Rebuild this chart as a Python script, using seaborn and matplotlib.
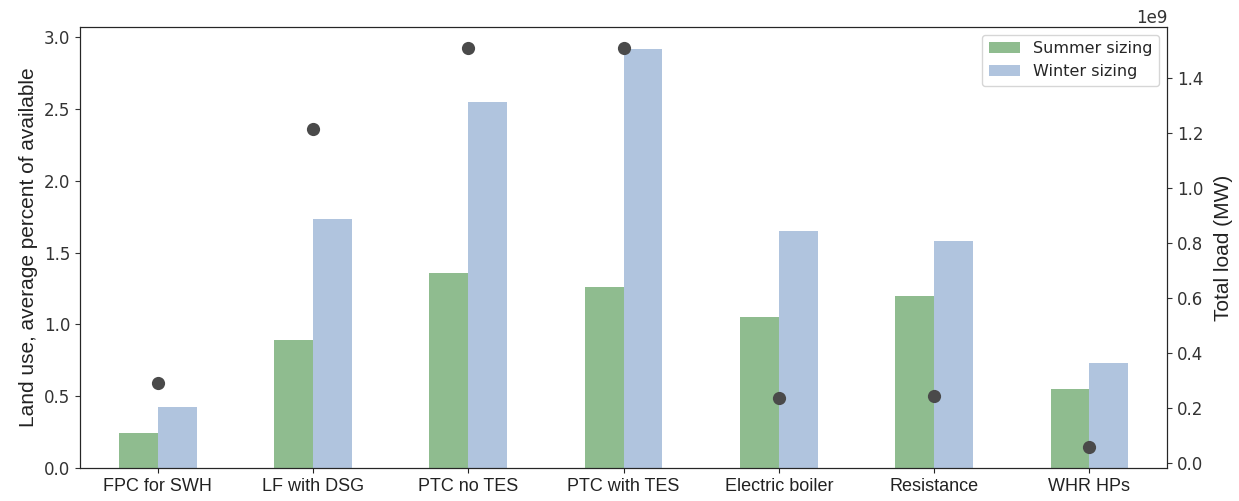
import numpy as np
import pandas as pd
import matplotlib
matplotlib.use("Agg")
import matplotlib.pyplot as plt
import seaborn as sns

categories = ["FPC for SWH", "LF with DSG", "PTC no TES", "PTC with TES",
              "Electric boiler", "Resistance", "WHR HPs"]
summer_land = [0.245, 0.89, 1.36, 1.26, 1.05, 1.20, 0.55]
winter_land = [0.425, 1.73, 2.55, 2.92, 1.65, 1.58, 0.73]
total_load = [0.29e9, 1.215e9, 1.51e9, 1.51e9, 0.235e9, 0.245e9, 0.058e9]
series_names = ["Summer sizing", "Winter sizing"]

sns.set_style("ticks")
plt.rcParams["font.family"] = ["DejaVu Sans"]

df = pd.DataFrame({
    "technology": categories * 2,
    "land": summer_land + winter_land,
    "sizing": [series_names[0]] * len(categories) + [series_names[1]] * len(categories),
})

fig = plt.figure(figsize=(12.39, 5.01), dpi=100)
ax = fig.add_axes([0.0646, 0.066, 0.8774, 0.880])

sns.barplot(data=df, x="technology", y="land", hue="sizing",
            palette=["#8fbc8f", "#b0c4de"], width=0.5, saturation=1,
            linewidth=0, edgecolor="none", ax=ax, legend=True)

ax.set_ylim(0, 3.07)
ax.set_xlim(-0.5, 6.5)
ax.set_xlabel("")
ax.set_ylabel("Land use, average percent of available",
              fontsize=15, family="Liberation Sans", color="#222222")
ax.tick_params(axis="y", labelsize=12, colors="#333333")
ax.tick_params(axis="x", labelsize=13, colors="#222222")
for lab in ax.get_xticklabels():
    lab.set_family("Liberation Sans")
for sp in ax.spines.values():
    sp.set_visible(True)
    sp.set_color("#222222")

ax2 = ax.twinx()
sns.stripplot(x=categories, y=total_load, jitter=False, color="#4a4a4a",
              size=9.5, linewidth=0, ax=ax2, zorder=5)
ax2.set_xlim(-0.5, 6.5)
ax2.set_ylim(-0.018e9, 1.585e9)
ax2.set_ylabel("Total load (MW)", fontsize=15, family="Liberation Sans",
               color="#222222", labelpad=8)
ax2.tick_params(axis="y", labelsize=12, colors="#333333")
ax2.yaxis.get_offset_text().set_fontsize(12)

handles, labels = ax.get_legend_handles_labels()
ax.legend_.remove()
ax2.legend(handles, labels, loc="upper right", fontsize=11.5,
           frameon=True, fancybox=True, framealpha=0.8, edgecolor="#cccccc")

fig.savefig("out.png", dpi=100)
